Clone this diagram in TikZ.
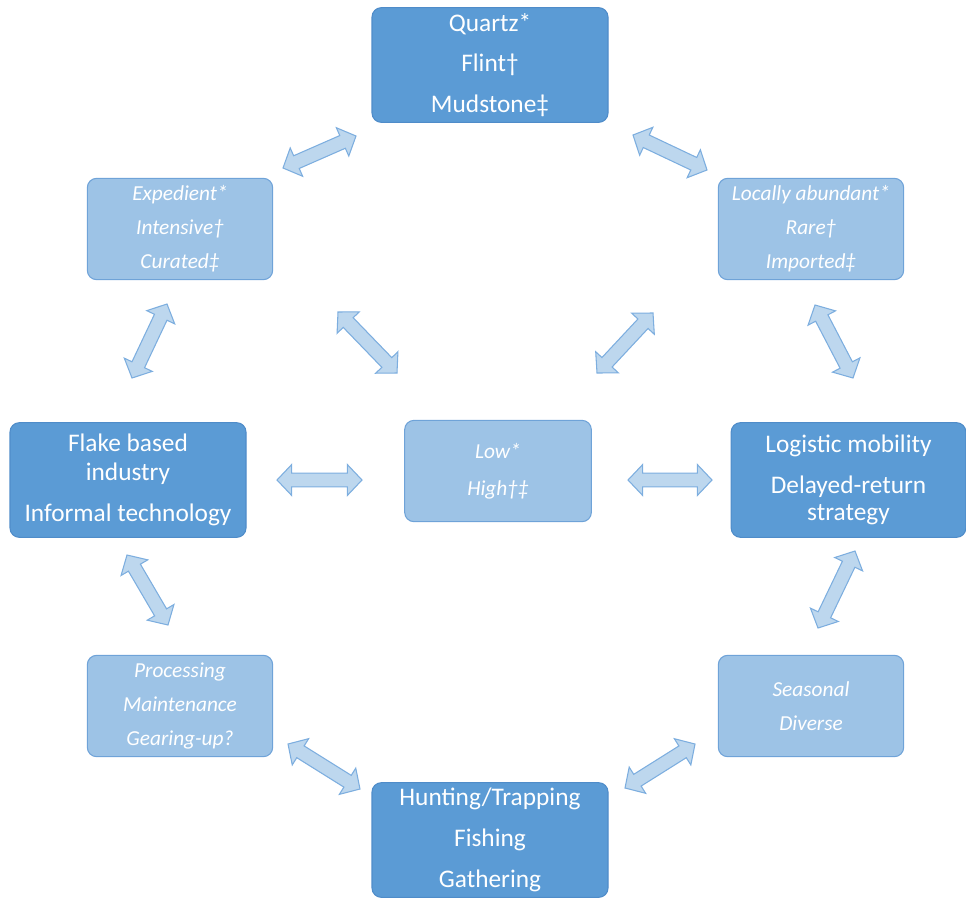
\documentclass[tikz,border=0pt]{standalone}
\usepackage{fontspec}
\setmainfont{Carlito}
\usetikzlibrary{calc,positioning}
\definecolor{boxdark}{HTML}{5B9BD5}
\definecolor{boxdarkline}{HTML}{4F8CC9}
\definecolor{boxlight}{HTML}{9DC3E6}
\definecolor{boxlightline}{HTML}{6FA3D8}
\definecolor{arrowfill}{HTML}{BDD7EE}
\definecolor{arrowline}{HTML}{7DAEDF}

\tikzset{
  darkbox/.style={draw=boxdarkline, fill=boxdark, rounded corners=7pt, thick,
    text=white, align=center, inner sep=0pt,
    minimum width=177pt, minimum height=86pt,
    font=\fontsize{19}{30.5}\selectfont},
  lightbox/.style={draw=boxlightline, fill=boxlight, rounded corners=7pt, thick,
    text=white, align=center, inner sep=0pt,
    minimum width=139pt, minimum height=76pt,
    font=\itshape\fontsize{16}{25.5}\selectfont},
  twoway/.style={draw=arrowline, fill=arrowfill, thick, line join=miter}
}
\newcommand{\headlen}{11pt}   % head length
\newcommand{\headhalf}{11.6pt}% half width of head
\newcommand{\shafthalf}{5.2pt}% half width of shaft
% block arrow with two heads between two named ends
\newcommand{\twoway}[2]{%
  \draw[twoway] (#1)
    -- ($(#1)!\headlen!(#2)!\headhalf!90:(#2)$)
    -- ($(#1)!\headlen!(#2)!\shafthalf!90:(#2)$)
    -- ($(#2)!\headlen!(#1)!\shafthalf!-90:(#1)$)
    -- ($(#2)!\headlen!(#1)!\headhalf!-90:(#1)$)
    -- (#2)
    -- ($(#2)!\headlen!(#1)!\headhalf!90:(#1)$)
    -- ($(#2)!\headlen!(#1)!\shafthalf!90:(#1)$)
    -- ($(#1)!\headlen!(#2)!\shafthalf!-90:(#2)$)
    -- ($(#1)!\headlen!(#2)!\headhalf!-90:(#2)$)
    -- cycle;}

\begin{document}
\begin{tikzpicture}[x=0.75pt, y=-0.75pt]
  \useasboundingbox (0,0) rectangle (966,897);

  % boxes
  \node[darkbox] (stone) at (490,65) {Quartz*\\Flint\textdagger\\Mudstone\textdaggerdbl};
  \node[lightbox] (use) at (180,229) {Expedient*\\Intensive\textdagger\\Curated\textdaggerdbl};
  \node[lightbox] (supply) at (811,229) {Locally abundant*\\Rare\textdagger\\Imported\textdaggerdbl};
  \node[darkbox] (industry) at (128,480) {Flake based\\[-9pt]industry\\Informal technology};
  \node[lightbox, minimum width=140pt] (risk) at (498,471) {Low*\\[2pt]High\textdagger\textdaggerdbl};
  \node[darkbox, minimum width=176pt] (mobility) at (848.5,480) {Logistic mobility\\Delayed-return\\[-10.5pt]strategy};
  \node[lightbox] (tasks) at (180,706) {Processing\\Maintenance\\Gearing-up?};
  \node[lightbox] (season) at (811,706) {Seasonal\\Diverse};
  \node[darkbox] (economy) at (490,840) {Hunting/Trapping\\Fishing\\Gathering};

  % arrow ends
  \coordinate (a1) at (283,168);  \coordinate (b1) at (356,136);
  \coordinate (a2) at (633,135);  \coordinate (b2) at (707,170);
  \coordinate (a3) at (167,304);  \coordinate (b3) at (132,378);
  \coordinate (a4) at (338,312);  \coordinate (b4) at (397,373);
  \coordinate (a5) at (653,313);  \coordinate (b5) at (597,373);
  \coordinate (a6) at (815,305);  \coordinate (b6) at (853,378);
  \coordinate (a7) at (277,480);  \coordinate (b7) at (362,480);
  \coordinate (a8) at (628,480);  \coordinate (b8) at (712,480);
  \coordinate (a9) at (127,555);  \coordinate (b9) at (168,625);
  \coordinate (a10) at (855,551); \coordinate (b10) at (818,628);
  \coordinate (a11) at (288,744); \coordinate (b11) at (360,789);
  \coordinate (a12) at (695,744); \coordinate (b12) at (625,788);

  \foreach \i in {1,...,12} {\twoway{a\i}{b\i}}
\end{tikzpicture}
\end{document}
